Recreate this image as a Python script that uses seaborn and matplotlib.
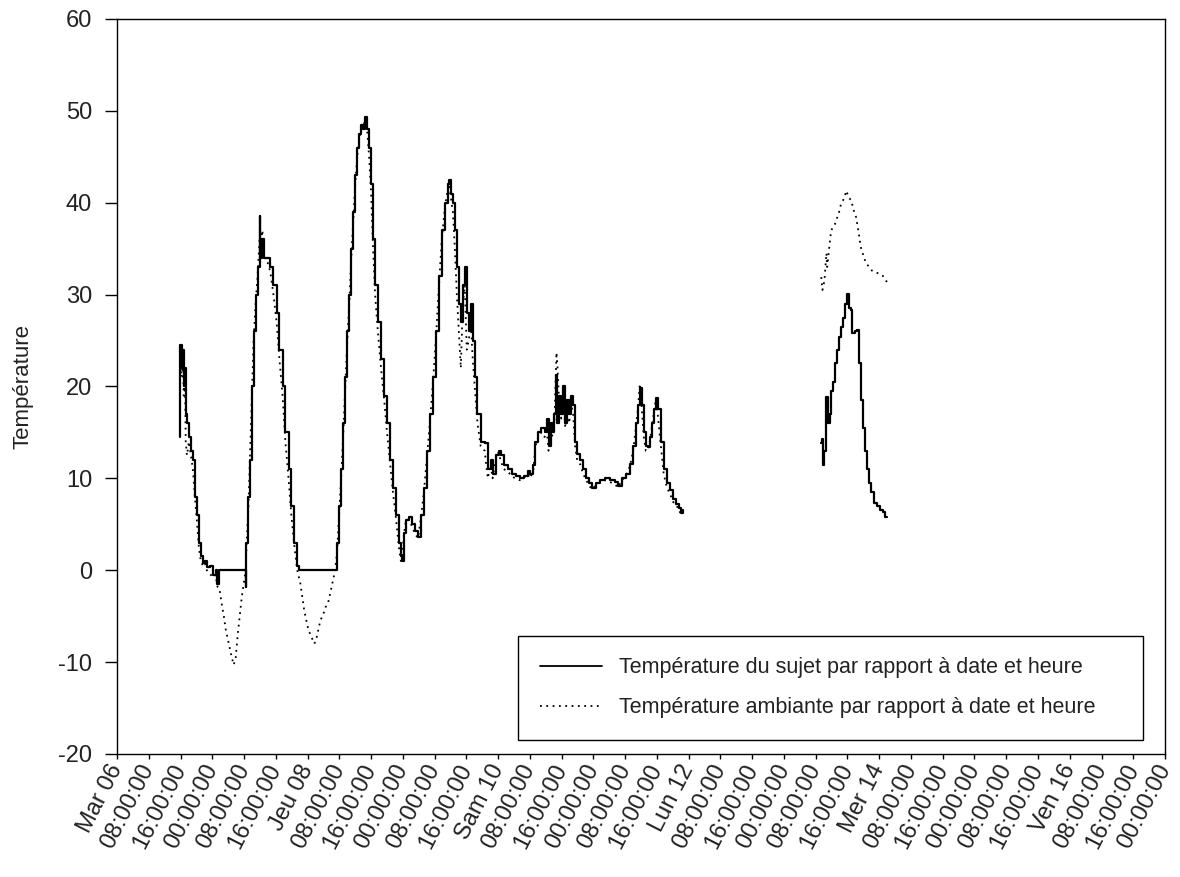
import matplotlib
matplotlib.use("Agg")
import matplotlib.pyplot as plt
from matplotlib.lines import Line2D
import pandas as pd
import seaborn as sns

debut = pd.Timestamp("2007-03-06 00:00")
fin = pd.Timestamp("2007-03-17 00:00")

# heures depuis mar 06 00:00
sujet_h1 = [15.8, 15.9, 16.3, 16.6, 16.8, 17.1, 17.3, 17.6, 18.1, 18.6, 19.1, 19.6, 20.1, 20.6, 21.1,
            21.6, 22.1, 22.6, 23.3, 24.1, 24.8, 25.3, 25.8, 32.1, 32.4, 32.6, 33.1, 33.4, 33.9, 34.4,
            34.9, 35.4, 35.9, 36.1, 36.6, 37.1, 37.9, 38.6, 39.4, 40.2, 40.9, 41.7, 42.4, 43.2, 43.9,
            44.7, 45.4, 45.9, 55.0, 55.5, 56.0, 56.5, 57.0, 57.5, 58.0, 58.5, 59.0, 59.5, 60.0, 60.5,
            61.0, 61.5, 62.0, 62.5, 63.0, 63.5, 64.0, 64.5, 65.0, 65.7, 66.5, 67.3, 68.0, 68.8, 69.5,
            70.3, 71.0, 71.5, 71.8, 72.3, 72.8, 73.5, 74.3, 75.0, 75.8, 76.5, 77.3, 78.0, 78.8, 79.5,
            80.3, 81.1, 81.8, 82.6, 83.3, 83.6, 84.1, 84.6, 85.1, 85.6, 86.1, 86.6, 87.1, 87.6, 88.1,
            88.6, 89.1, 89.6, 90.1, 90.8, 91.6, 92.6, 93.4, 94.1, 94.6, 95.4, 96.1, 96.6, 97.4, 98.4,
            99.4, 100.4, 101.4, 102.4, 103.4, 104.1, 104.9, 105.4, 106.1, 106.9, 107.7, 108.2, 108.7,
            109.2, 109.7, 110.2, 110.7, 110.9, 111.4, 111.9, 112.4, 112.9, 113.4, 113.9, 114.4, 114.9,
            115.4, 115.9, 116.7, 117.4, 118.2, 118.9, 119.7, 120.7, 121.7, 123.0, 124.2, 125.5, 126.2,
            127.2, 128.2, 129.2, 130.0, 130.7, 131.2, 131.7, 132.2, 132.7, 133.2, 133.7, 134.2, 134.7,
            135.2, 135.7, 136.2, 137.0, 137.7, 138.5, 139.3, 140.0, 140.7, 141.5, 142.0, 142.5]
sujet_t1 = [14.5, 24.5, 22, 24, 20, 22, 17, 16, 14.5, 13, 12, 8, 6, 3, 1.5,
            0.8, 1, 0.3, 0.5, -0.5, 0, -1.5, 0, 0, -1.8, 3, 8, 12, 20, 26,
            30, 33, 38.5, 34, 36, 34, 34, 33, 31, 28, 24, 20, 15, 11, 7,
            3, 0.5, 0, 0, 3, 7, 11, 16, 21, 26, 30, 35, 39, 43, 46,
            47.5, 48.5, 48, 49.3, 48, 46, 42, 36, 31, 27, 23, 19, 16, 12, 9,
            6, 3, 1.5, 1, 4, 5.5, 5.8, 5, 4.3, 3.6, 6, 9, 13, 17, 21,
            26, 32, 37, 40, 42, 42.5, 41, 40, 37, 33, 29, 27, 31, 33, 28,
            26, 29, 25, 21, 17, 14, 13.8, 11, 12, 10.5, 12.5, 13, 12.5, 11.5, 11,
            10.5, 10.2, 10, 10.3, 10.8, 10.5, 11.5, 14, 15, 15.5, 15, 16.5, 13.5,
            16, 15, 17, 21.2, 16, 19, 17, 20, 16, 18.5, 17, 19, 18,
            14, 12.7, 12, 11, 10, 9.5, 8.9, 9.5, 9.8, 10, 9.8, 9.6, 9.2,
            10, 10.5, 11.6, 13.5, 16, 18, 19.8, 18, 15, 13.5, 13.4, 14.5, 16,
            17.5, 18.7, 17.5, 14, 11, 9.5, 8.7, 7.8, 7.2, 6.8, 6.2, 6.5]

sujet_h2 = [177.4, 177.7, 177.9, 178.2, 178.7, 179.2, 179.5, 179.9, 180.4, 180.9, 181.4, 181.9,
            182.4, 182.9, 183.4, 183.9, 184.4, 184.9, 185.2, 185.9, 186.4, 186.9, 187.4, 187.9,
            188.4, 188.9, 189.5, 190.0, 190.7, 191.5, 192.2, 193.0, 193.5, 193.9]
sujet_t2 = [13.8, 14.3, 11.4, 13, 18.8, 16, 17, 19.5, 20.5, 22.5, 24, 25.4,
            26.5, 27.5, 29, 30.1, 28.5, 28.3, 25.8, 26, 26.1, 22.5, 18.5, 15.5,
            13, 11, 9.5, 8.5, 7.3, 7, 6.5, 6.3, 5.8, 5.8]

amb_h1 = [15.9, 16.3, 16.6, 16.8, 17.1, 17.3, 17.6, 18.1, 18.6, 19.1, 19.6, 20.1, 20.6, 21.1, 21.6,
          22.1, 22.6, 23.3, 24.1, 24.8, 25.3, 25.8, 26.3, 26.9, 27.4, 27.9, 28.4, 28.9, 29.4, 29.9,
          30.4, 30.9, 31.4, 31.9, 32.4, 32.6, 33.1, 33.4, 33.9, 34.4, 34.9, 35.4, 35.9, 36.1, 36.6,
          37.1, 37.9, 38.6, 39.4, 40.2, 40.9, 41.7, 42.4, 43.2, 43.9, 44.7, 45.4, 46.2, 46.7, 47.2,
          47.7, 48.2, 48.7, 49.2, 49.7, 50.2, 50.7, 51.2, 51.7, 52.2, 52.7, 53.2, 53.7, 54.2, 54.7,
          55.2, 55.5, 56.0, 56.5, 57.0, 57.5, 58.0, 58.5, 59.0, 59.5, 60.0, 60.5, 61.0, 61.5, 62.0,
          62.5, 63.0, 63.5, 64.0, 64.5, 65.0, 65.7, 66.5, 67.3, 68.0, 68.8, 69.5, 70.3, 71.0, 71.5,
          71.8, 72.3, 72.8, 73.5, 74.3, 75.0, 75.8, 76.5, 77.3, 78.0, 78.8, 79.5, 80.3, 81.1, 81.8,
          82.6, 83.3, 83.6, 84.1, 84.6, 85.1, 85.6, 86.1, 86.6, 87.1, 87.6, 88.1, 88.6, 89.1, 89.6,
          90.1, 90.8, 91.6, 92.6, 93.4, 94.1, 94.6, 95.4, 96.1, 96.6, 97.4, 98.4, 99.4, 100.4, 101.4,
          102.4, 103.4, 104.1, 104.9, 105.4, 106.1, 106.9, 107.7, 108.2, 108.7, 109.2, 109.7, 110.2,
          110.7, 110.9, 111.4, 111.9, 112.4, 112.9, 113.4, 113.9, 114.4, 114.9, 115.4, 115.9, 116.7,
          117.4, 118.2, 118.9, 119.7, 120.7, 121.7, 123.0, 124.2, 125.5, 126.2, 127.2, 128.2, 129.2,
          130.0, 130.7, 131.2, 131.7, 132.2, 132.7, 133.2, 133.7, 134.2, 134.7, 135.2, 135.7, 136.2,
          137.0, 137.7, 138.5, 139.3, 140.0, 140.7, 141.5, 142.0, 142.5]
amb_t1 = [23, 21, 23.5, 19, 21, 14, 12.5, 14, 12.5, 11, 8, 5.5, 2.5, 1, 0.5,
          0.8, 0, -0.3, -0.8, -0.5, -1.8, -2, -3.5, -5, -6.5, -7.5, -8.5, -9.5, -10.3, -9.5,
          -7, -5, -3, -1.5, 0, 2.5, 7, 11, 18, 25, 29, 32, 36, 35, 37,
          34, 33.5, 32.5, 30, 27, 23, 19, 14, 10, 6, 2.5, 0, -1.5, -3, -4.5,
          -5.5, -6.5, -7, -7.5, -8, -7.5, -6.5, -5.5, -5, -4.5, -3.8, -3.5, -2.5, -1.5, -0.5,
          1, 2.5, 6.5, 10.5, 15, 20, 25, 29, 34, 38, 42, 45, 47, 48, 48.5,
          48.8, 48, 45, 41, 35, 30, 26, 22, 18.5, 15, 11.5, 8.5, 5.5, 2.5, 1,
          1.5, 4, 5.5, 5.5, 4.8, 4, 3.5, 5.5, 8.5, 12, 16, 20, 25, 31, 36,
          39.5, 41.5, 42, 40.5, 39, 35, 30, 26, 22, 29, 31, 24, 25, 27, 23,
          20, 16, 13.5, 13, 10, 11.5, 10, 12, 12.8, 12, 11, 10.8, 10.2, 10, 9.8,
          10, 10.5, 10, 11, 13.5, 14.5, 15, 14.5, 15.5, 13, 15.5, 14.5, 16.5,
          23.7, 22.5, 18, 16.5, 19.5, 15.5, 17.5, 16, 18, 17, 13.5, 12, 11.5,
          10.5, 9.8, 9.2, 8.8, 9.3, 9.6, 9.8, 9.6, 9.3, 9, 9.8, 10.3, 11.3,
          13, 15.5, 17.5, 20.3, 17.5, 14.5, 13, 13, 14, 15.5, 17, 18.5, 17,
          13.5, 10.5, 9, 8.3, 7.5, 7, 6.8, 6, 6.8]

amb_h2 = [177.4, 177.7, 178.2, 178.7, 178.9, 179.5, 179.9, 180.7, 181.2, 181.9, 182.4, 183.2,
          183.7, 184.4, 184.9, 185.7, 186.2, 186.9, 187.4, 188.2, 188.7, 189.5, 190.2, 191.0,
          192.0, 193.0, 193.7, 194.5]
amb_t2 = [31.9, 30.5, 31.5, 34.5, 33, 35.5, 37, 37.5, 38.1, 39, 39.9, 40.5,
          41.3, 40.5, 40.3, 39, 38.4, 36.5, 35.1, 34, 33.4, 33, 32.6, 32.4,
          32.3, 32, 31.5, 31.2]

tick_labels = ["Mar 06", "08:00:00", "16:00:00", "00:00:00", "08:00:00", "16:00:00",
               "Jeu 08", "08:00:00", "16:00:00", "00:00:00", "08:00:00", "16:00:00",
               "Sam 10", "08:00:00", "16:00:00", "00:00:00", "08:00:00", "16:00:00",
               "Lun 12", "08:00:00", "16:00:00", "00:00:00", "08:00:00", "16:00:00",
               "Mer 14", "08:00:00", "16:00:00", "00:00:00", "08:00:00", "16:00:00",
               "Ven 16", "08:00:00", "16:00:00", "00:00:00"]

legend_labels = ["Température du sujet par rapport à date et heure",
                 "Température ambiante par rapport à date et heure"]


def make_df(parts):
    frames = []
    for i, (h, t) in enumerate(parts):
        frames.append(pd.DataFrame({"date": debut + pd.to_timedelta(h, unit="h"),
                                    "temp": t, "seg": i}))
    return pd.concat(frames, ignore_index=True)


df_sujet = make_df([(sujet_h1, sujet_t1), (sujet_h2, sujet_t2)])
df_amb = make_df([(amb_h1, amb_t1), (amb_h2, amb_t2)])

sns.set_style("ticks")
plt.rcParams["font.family"] = ["Liberation Sans", "DejaVu Sans"]
plt.rcParams["axes.unicode_minus"] = False

fig = plt.figure(figsize=(11.8, 8.77), dpi=100)
ax = fig.add_axes([0.0992, 0.1403, 0.8881, 0.8381])

sns.lineplot(data=df_amb, x="date", y="temp", units="seg", estimator=None, color="black",
             lw=1.3, linestyle=(0, (1, 2.5)), ax=ax, legend=False)
sns.lineplot(data=df_sujet, x="date", y="temp", units="seg", estimator=None, color="black",
             lw=1.6, drawstyle="steps-post", ax=ax, legend=False)

ax.set_xlim(debut, fin)
ax.set_ylim(-20, 60)
ax.set_yticks(range(-20, 61, 10))
ticks = pd.date_range(debut, fin, freq="8h")
ax.set_xticks(ticks)
ax.set_xticklabels(tick_labels, rotation=63, ha="right", va="center",
                   rotation_mode="anchor", fontsize=17, color="#222222")
for tick, lab in zip(ax.xaxis.get_major_ticks(), tick_labels):
    tick.tick1line.set_markersize(7.5 if not lab[0].isdigit() else 4.5)
ax.tick_params(axis="x", direction="out", width=1, pad=5, colors="black")
ax.tick_params(axis="y", direction="out", length=9, width=1, pad=9, labelsize=17,
               colors="black")
ax.tick_params(labelcolor="#222222")
for s in ax.spines.values():
    s.set_color("black")
    s.set_linewidth(1)

ax.set_xlabel("")
ax.set_ylabel("Température", fontsize=16, labelpad=18, color="#222222")

handles = [Line2D([], [], color="black", lw=1.3),
           Line2D([], [], color="black", lw=1.3, linestyle=(0, (1, 2.5)))]
leg = ax.legend(handles, legend_labels, loc="lower left",
                bbox_to_anchor=(0.383, 0.019, 0.596, 0.148), mode="expand",
                fancybox=False, framealpha=1, edgecolor="black", fontsize=15.5,
                handlelength=2.9, handletextpad=0.75, borderpad=1.0, labelspacing=0.9,
                borderaxespad=0)
leg.get_frame().set_linewidth(1)
for t in leg.get_texts():
    t.set_color("#222222")

fig.savefig("out.png", dpi=100)
